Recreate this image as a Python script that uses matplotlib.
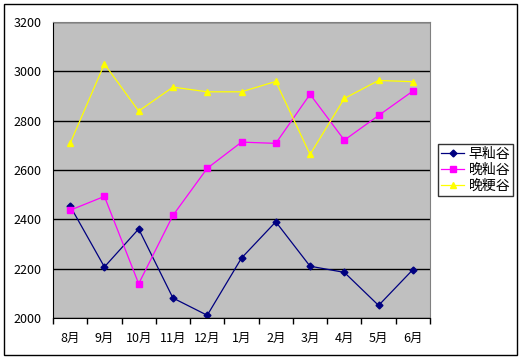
import matplotlib.pyplot as plt
from matplotlib.patches import Rectangle

plt.rcParams['font.family'] = ['Noto Sans CJK SC', 'DejaVu Sans']

months = ["8月", "9月", "10月", "11月", "12月", "1月", "2月", "3月", "4月", "5月", "6月"]
zao_xian = [2454, 2207, 2361, 2081, 2011, 2243, 2390, 2210, 2185, 2051, 2196]
wan_xian = [2437, 2493, 2139, 2416, 2607, 2713, 2708, 2907, 2721, 2821, 2920]
wan_geng = [2708, 3030, 2839, 2936, 2917, 2917, 2959, 2663, 2890, 2963, 2958]
names = ["早籼谷", "晚籼谷", "晚粳谷"]

fig = plt.figure(figsize=(5.23, 3.61), dpi=100)
# 外框
fig.patches.append(Rectangle((4 / 523, 6 / 361), 513 / 523, 351 / 361,
                             transform=fig.transFigure, fill=False,
                             edgecolor="black", linewidth=1))

ax = fig.add_axes([53 / 523, 43 / 361, 377 / 523, 296 / 361])
ax.set_facecolor("#C0C0C0")

x = range(len(months))
ax.plot(x, zao_xian, color="#000080", marker="D", markersize=3.5, linewidth=0.9, label=names[0])
ax.plot(x, wan_xian, color="#FF00FF", marker="s", markersize=4, linewidth=0.9, label=names[1])
ax.plot(x, wan_geng, color="#FFFF00", marker="^", markersize=5, linewidth=0.9, label=names[2])

ax.set_xlim(-0.5, len(months) - 0.5)
ax.set_ylim(2000, 3200)
ax.set_yticks(range(2000, 3201, 200))
ax.yaxis.grid(True, color="black", linewidth=1)
ax.set_axisbelow(True)

ax.set_xticks(x)
ax.set_xticklabels(months)
ax.set_xticks([i + 0.5 for i in range(-1, len(months))], minor=True)
ax.tick_params(axis="x", which="major", length=0, pad=10, labelsize=9)
ax.tick_params(axis="x", which="minor", length=4, width=1, color="black")
ax.tick_params(axis="y", length=0, pad=8, labelsize=9)

for side in ["top", "right"]:
    ax.spines[side].set_color("#808080")
ax.spines["left"].set_color("black")
ax.spines["bottom"].set_color("black")

leg = fig.legend(loc="upper left", bbox_to_anchor=(438 / 523, 1 - 144 / 361),
                 fontsize=10, frameon=True, fancybox=False, edgecolor="black",
                 borderpad=0.2, labelspacing=0.15, handlelength=1.7, handletextpad=0.3,
                 borderaxespad=0)
leg.get_frame().set_linewidth(1)

fig.savefig("out.png", dpi=100)
